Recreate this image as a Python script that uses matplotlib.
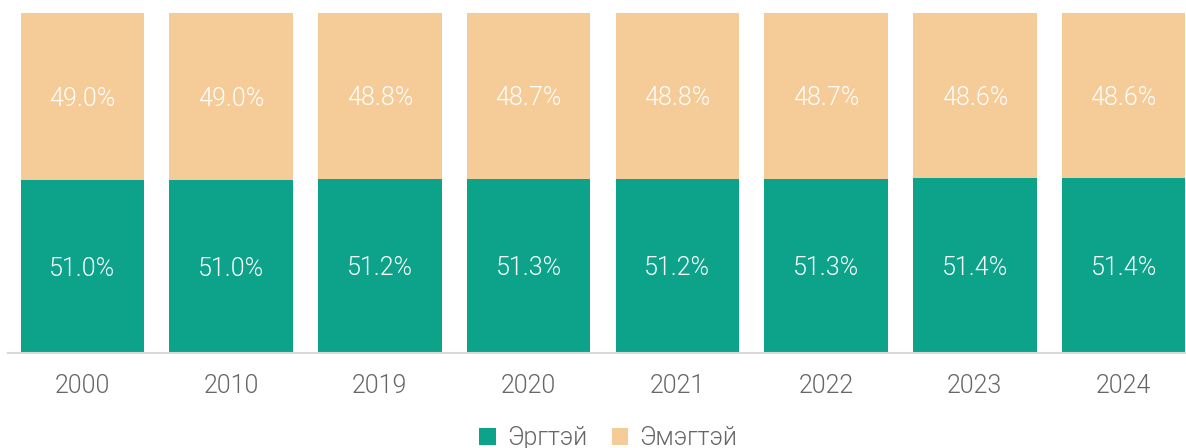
import matplotlib
matplotlib.use("Agg")
import matplotlib.pyplot as plt
from matplotlib.patches import Patch

years = ["2000", "2010", "2019", "2020", "2021", "2022", "2023", "2024"]
male = [51.0, 51.0, 51.2, 51.3, 51.2, 51.3, 51.4, 51.4]
female = [49.0, 49.0, 48.8, 48.7, 48.8, 48.7, 48.6, 48.6]
series_names = ["Эргтэй", "Эмэгтэй"]

GREEN = "#0ca38a"
PEACH = "#f5cc98"
TXT = "#666666"
FS = 18
WT = 300

plt.rcParams['font.family'] = ['Roboto', 'DejaVu Sans']

fig = plt.figure(figsize=(11.86, 4.48), dpi=100)
ax = fig.add_axes([8/1186, 1 - 353/448, 1 - 8/1186, 340/448])

x = list(range(len(years)))
w = 0.83
ax.bar(x, male, width=w, color=GREEN, edgecolor="none")
ax.bar(x, female, width=w, bottom=male, color=PEACH, edgecolor="none")

for i in x:
    ax.text(i, male[i] / 2, f"{male[i]:.1f}%", ha="center", va="center_baseline",
            color="white", fontsize=FS, fontweight=WT)
    ax.text(i, male[i] + female[i] / 2, f"{female[i]:.1f}%", ha="center", va="center_baseline",
            color="white", fontsize=FS, fontweight=WT)

ax.set_xlim(-0.5, 7.42)
ax.set_ylim(0, 100)
ax.set_yticks([])
ax.set_xticks(x)
ax.set_xticklabels(years, fontsize=FS, color=TXT, fontweight=WT)
ax.tick_params(axis="x", length=0, pad=15)
for s in ["top", "left", "right"]:
    ax.spines[s].set_visible(False)
ax.spines["bottom"].set_color("#d9d9d9")
ax.spines["bottom"].set_linewidth(1.5)

handles = [Patch(facecolor=GREEN, edgecolor="none"), Patch(facecolor=PEACH, edgecolor="none")]
leg = fig.legend(handles, series_names, loc="center", bbox_to_anchor=(0.513, 1 - 438/448),
                 ncol=2, frameon=False, fontsize=FS, handlelength=0.65, handleheight=0.65,
                 handletextpad=0.45, columnspacing=1.0, borderpad=0, borderaxespad=0)
for t in leg.get_texts():
    t.set_color(TXT)
    t.set_fontweight(WT)

fig.savefig("out.png", dpi=100)
